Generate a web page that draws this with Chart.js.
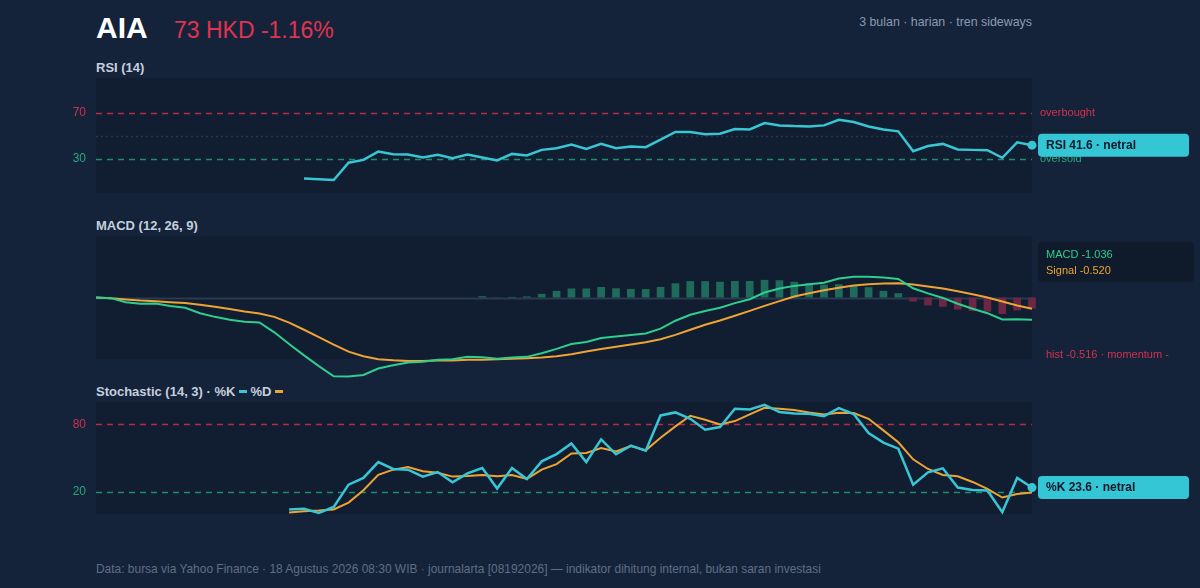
<!DOCTYPE html>
<html><head><meta charset="utf-8">
<script src="https://cdn.jsdelivr.net/npm/chart.js@4.4.1/dist/chart.umd.min.js"></script>
<style>
html,body{margin:0;padding:0;background:#15233a;}
body{width:1200px;height:588px;position:relative;overflow:hidden;font-family:'Liberation Sans',Arial,Helvetica,sans-serif;}
canvas{position:absolute;left:0;}
.t{position:absolute;white-space:nowrap;line-height:1;}
.ttl{font-size:13px;font-weight:bold;color:#c5d0de;left:96px;}
.dash{display:inline-block;width:8px;height:3px;vertical-align:middle;margin:0 3px 0 4px;position:relative;top:-1px;}
</style></head><body>
<div class="t" style="left:96px;top:13px;font-size:30px;font-weight:bold;color:#ffffff;">AIA</div>
<div class="t" style="left:174px;top:19px;font-size:23px;color:#e0334f;">73 HKD -1.16%</div>
<div class="t" style="right:168px;top:15.5px;font-size:12.4px;color:#8b9ab0;">3 bulan · harian · tren sideways</div>
<div class="t ttl" style="top:61px;">RSI (14)</div>
<div class="t ttl" style="top:219px;">MACD (12, 26, 9)</div>
<div class="t ttl" style="top:385px;">Stochastic (14, 3) · %K<span class="dash" style="background:#38c6d4"></span>%D<span class="dash" style="background:#eea434"></span></div>
<div class="t" style="left:96px;top:564px;font-size:11.95px;color:#5f6e86;">Data: bursa via Yahoo Finance · 18 Agustus 2026 08:30 WIB · journalarta [08192026] — indikator dihitung internal, bukan saran investasi</div>

<canvas id="rsi" width="1200" height="150" style="top:60px"></canvas>
<canvas id="macd" width="1200" height="173" style="top:215px"></canvas>
<canvas id="stoch" width="1200" height="135" style="top:390px"></canvas>

<script>
const labels = ["21 Mei","22 Mei","25 Mei","26 Mei","27 Mei","28 Mei","29 Mei",
"1 Jun","2 Jun","3 Jun","4 Jun","5 Jun","8 Jun","9 Jun","10 Jun","11 Jun","12 Jun","15 Jun","16 Jun","17 Jun","18 Jun","19 Jun","22 Jun","23 Jun","24 Jun","25 Jun","26 Jun","29 Jun","30 Jun",
"1 Jul","2 Jul","3 Jul","6 Jul","7 Jul","8 Jul","9 Jul","10 Jul","13 Jul","14 Jul","15 Jul","16 Jul","17 Jul","20 Jul","21 Jul","22 Jul","23 Jul","24 Jul","27 Jul","28 Jul","29 Jul","30 Jul","31 Jul",
"3 Agu","4 Agu","5 Agu","6 Agu","7 Agu","10 Agu","11 Agu","12 Agu","13 Agu","14 Agu","17 Agu","18 Agu"];

const rsi = [null,null,null,null,null,null,null,null,null,null,null,null,null,null,
12.7,11.9,11.3,26.3,28.8,36.0,33.7,33.5,30.9,33.2,30.3,33.5,30.9,28.3,34.0,32.6,
37.5,38.9,42.1,38.3,42.7,38.9,40.4,39.8,46.4,53.1,53.0,51.0,51.6,55.6,55.3,60.8,
58.8,58.2,57.9,58.8,63.7,61.7,57.9,55.3,53.6,36.3,40.9,42.7,37.8,37.5,37.2,30.6,44.1,41.6];

const macd = [0,-0.03,-0.22,-0.29,-0.28,-0.40,-0.48,-0.73,-0.90,-1.03,-1.13,-1.16,-1.62,-2.16,-2.69,-3.19,
-3.66,-3.67,-3.60,-3.30,-3.15,-3.02,-2.99,-2.89,-2.87,-2.76,-2.78,-2.85,-2.79,-2.76,-2.59,-2.39,
-2.16,-2.07,-1.88,-1.81,-1.74,-1.67,-1.45,-1.08,-0.80,-0.63,-0.48,-0.26,-0.08,0.23,0.42,0.54,
0.62,0.69,0.88,0.97,0.97,0.93,0.86,0.43,0.19,-0.02,-0.29,-0.52,-0.73,-1.02,-1.01,-1.036];

const signal = [0,-0.03,-0.09,-0.14,-0.17,-0.22,-0.26,-0.34,-0.43,-0.54,-0.65,-0.74,-0.90,-1.17,-1.50,-1.84,
-2.19,-2.52,-2.73,-2.87,-2.92,-2.95,-2.95,-2.93,-2.93,-2.90,-2.89,-2.87,-2.85,-2.82,-2.79,-2.73,
-2.64,-2.51,-2.40,-2.29,-2.19,-2.08,-1.94,-1.74,-1.50,-1.27,-1.07,-0.85,-0.62,-0.39,-0.17,0.05,
0.20,0.34,0.45,0.56,0.62,0.65,0.66,0.60,0.51,0.42,0.29,0.15,0.0,-0.19,-0.37,-0.520];

const hist = [null,null,null,null,null,null,null,null,null,null,null,null,null,null,null,null,
null,null,null,null,null,null,null,null,null,null,0.06,0.01,0.03,0.05,0.17,0.31,
0.42,0.42,0.49,0.43,0.40,0.39,0.49,0.66,0.76,0.76,0.73,0.77,0.77,0.82,0.80,0.73,
0.66,0.60,0.62,0.56,0.48,0.31,0.20,-0.19,-0.37,-0.43,-0.56,-0.63,-0.66,-0.77,-0.60,-0.516];

const stochK = [null,null,null,null,null,null,null,null,null,null,null,null,null,
4.0,4.6,1.0,6.3,26.2,32.2,46.4,40.2,39.6,33.4,37.5,28.3,36.3,41.1,22.7,41.1,31.3,47.0,
53.5,63.0,46.4,66.6,53.3,61.0,56.5,88.0,90.7,85.0,75.2,77.6,94.0,93.4,97.5,91.0,89.8,
89.5,87.4,94.6,89.2,72.3,63.7,58.3,26.2,37.2,40.8,23.6,21.5,20.9,1.6,32.2,23.6];

const stochD = [null,null,null,null,null,null,null,null,null,null,null,null,null,
1.3,2.5,3.1,4.0,10.2,21.2,34.9,39.6,42.0,38.1,36.9,33.4,34.0,34.9,33.7,34.9,31.3,39.6,
44.5,54.0,54.5,58.9,55.9,60.7,56.8,68.1,78.2,87.7,84.2,80.0,83.0,88.9,94.8,94.0,92.8,
90.7,88.9,90.4,90.1,85.0,74.7,64.0,48.8,40.2,34.9,33.7,28.6,22.4,14.7,17.9,19.1];

const rsiTicks = [30, 70];
const stochTicks = [20, 80];

const C = {panel:'#111d30', teal:'#38c6d4', box:'#35c6d6', green:'#2fce8e', orange:'#eea434',
  redLine:'#b82a45', redTxt:'#d0324e', greenLine:'#1f8e6d', greenTxt:'#26a87f', dotLine:'#27354c',
  zero:'#2b3a52', barUp:'#1f6b5b', barDn:'#6b2743', legBg:'#0f1a2a', boxTxt:'#0d1829'};
const FONT = "'Liberation Sans', Arial, Helvetica, sans-serif";
Chart.defaults.font.family = FONT;
Chart.defaults.animation = false;

const panelBg = { id:'panelBg', beforeDraw(ch){ const a=ch.chartArea, c=ch.ctx; c.save(); c.fillStyle=C.panel; c.fillRect(a.left,a.top,a.right-a.left,a.bottom-a.top); c.restore(); } };
function hLines(specs){ return { id:'hl', beforeDatasetsDraw(ch){ const a=ch.chartArea, c=ch.ctx, y=ch.scales.y;
  specs.forEach(s=>{ const py=Math.round(y.getPixelForValue(s.v))+0.5; c.save(); c.strokeStyle=s.color; c.lineWidth=s.w; c.setLineDash(s.dash); c.beginPath(); c.moveTo(a.left,py); c.lineTo(a.right,py); c.stroke(); c.restore(); }); } }; }
function rrect(c,x,y,w,h,r){ c.beginPath(); c.moveTo(x+r,y); c.lineTo(x+w-r,y); c.quadraticCurveTo(x+w,y,x+w,y+r); c.lineTo(x+w,y+h-r); c.quadraticCurveTo(x+w,y+h,x+w-r,y+h); c.lineTo(x+r,y+h); c.quadraticCurveTo(x,y+h,x,y+h-r); c.lineTo(x,y+r); c.quadraticCurveTo(x,y,x+r,y); c.closePath(); }
function valueBox(c, y, text){ c.save(); c.fillStyle=C.box; rrect(c,1038,y-11.5,151,23,4); c.fill(); c.fillStyle=C.boxTxt; c.font="bold 12px "+FONT; c.textBaseline='middle'; c.fillText(text,1046,y+0.5); c.restore(); }

function yAxis(min,max,ticks){ return {min,max,
  afterFit:s=>{s.width=96; s.paddingTop=0; s.paddingBottom=0;},
  afterBuildTicks:s=>{s.ticks=ticks.map(v=>({value:v}));},
  grid:{display:false, drawTicks:false}, border:{display:false},
  ticks:{padding:10, font:{size:12}, color:ctx=>ctx.tick.value>50?C.redTxt:C.greenTxt}}; }
const baseOpts = { responsive:false, plugins:{legend:{display:false}, tooltip:{enabled:false}} };
const lastIdx = labels.length-1;

// RSI
new Chart(document.getElementById('rsi'), {
  type:'line',
  data:{labels, datasets:[{data:rsi, borderColor:C.teal, borderWidth:2.5, tension:0, clip:false,
    pointRadius:ctx=>ctx.dataIndex===lastIdx?4.5:0, pointBackgroundColor:C.teal, pointBorderWidth:0}]},
  options:Object.assign({}, baseOpts, {layout:{padding:{left:0,right:168,top:18,bottom:17}},
    scales:{x:{display:false, offset:false}, y:yAxis(0,100,rsiTicks)}}),
  plugins:[panelBg, hLines([{v:70,color:C.redLine,w:1.3,dash:[6,5]},{v:50,color:C.dotLine,w:1.5,dash:[2,3]},{v:30,color:C.greenLine,w:1.3,dash:[6,5]}]),
    {id:'rsiLbl', afterDraw(ch){ const c=ch.ctx, y=ch.scales.y; c.save(); c.font="11px "+FONT; c.textBaseline='middle';
      c.fillStyle=C.redTxt; c.fillText('overbought',1040,y.getPixelForValue(70)+0.5);
      c.fillStyle=C.greenTxt; c.fillText('oversold',1040,y.getPixelForValue(30)+0.5); c.restore();
      const v=rsi[lastIdx]; valueBox(c, y.getPixelForValue(v), 'RSI '+v.toFixed(1)+' · netral'); }}]
});

// MACD
new Chart(document.getElementById('macd'), {
  type:'line',
  data:{labels, datasets:[
    {type:'line', data:macd, borderColor:C.green, borderWidth:2, tension:0, pointRadius:0, clip:false, order:0},
    {type:'line', data:signal, borderColor:C.orange, borderWidth:2, tension:0, pointRadius:0, clip:false, order:1},
    {type:'bar', data:hist, backgroundColor:ctx=>(ctx.raw>=0?C.barUp:C.barDn), barPercentage:0.52, categoryPercentage:1, clip:false, order:2}
  ]},
  options:Object.assign({}, baseOpts, {layout:{padding:{left:96,right:168,top:21,bottom:29}},
    scales:{x:{display:false, offset:false}, y:{display:false, min:-2.86, max:2.86}}}),
  plugins:[panelBg, hLines([{v:0,color:C.zero,w:2,dash:[]}]),
    {id:'macdLbl', afterDraw(ch){ const c=ch.ctx; c.save();
      c.fillStyle=C.legBg; rrect(c,1038,27,156,40,4); c.fill();
      c.font="11px "+FONT; c.textBaseline='alphabetic';
      c.fillStyle=C.green; c.fillText('MACD '+macd[lastIdx].toFixed(3),1046,42.5);
      c.fillStyle=C.orange; c.fillText('Signal '+signal[lastIdx].toFixed(3),1046,59);
      const h=hist[lastIdx];
      c.fillStyle=C.redTxt; c.fillText('hist '+h.toFixed(3)+' · momentum '+(h<0?'-':'+'),1046,142.5);
      c.restore(); }}]
});

// Stochastic
new Chart(document.getElementById('stoch'), {
  type:'line',
  data:{labels, datasets:[
    {data:stochK, borderColor:C.teal, borderWidth:2.5, tension:0, clip:false, order:0,
      pointRadius:ctx=>ctx.dataIndex===lastIdx?4.5:0, pointBackgroundColor:C.teal, pointBorderWidth:0},
    {data:stochD, borderColor:C.orange, borderWidth:2, tension:0, pointRadius:0, clip:false, order:1}
  ]},
  options:Object.assign({}, baseOpts, {layout:{padding:{left:0,right:168,top:12,bottom:11}},
    scales:{x:{display:false, offset:false}, y:yAxis(0,100,stochTicks)}}),
  plugins:[panelBg, hLines([{v:80,color:C.redLine,w:1.3,dash:[6,5]},{v:20,color:C.greenLine,w:1.3,dash:[6,5]}]),
    {id:'stLbl', afterDraw(ch){ const y=ch.scales.y, v=stochK[lastIdx]; valueBox(ch.ctx, y.getPixelForValue(v), '%K '+v.toFixed(1)+' · netral'); }}]
});
</script>
</body></html>
